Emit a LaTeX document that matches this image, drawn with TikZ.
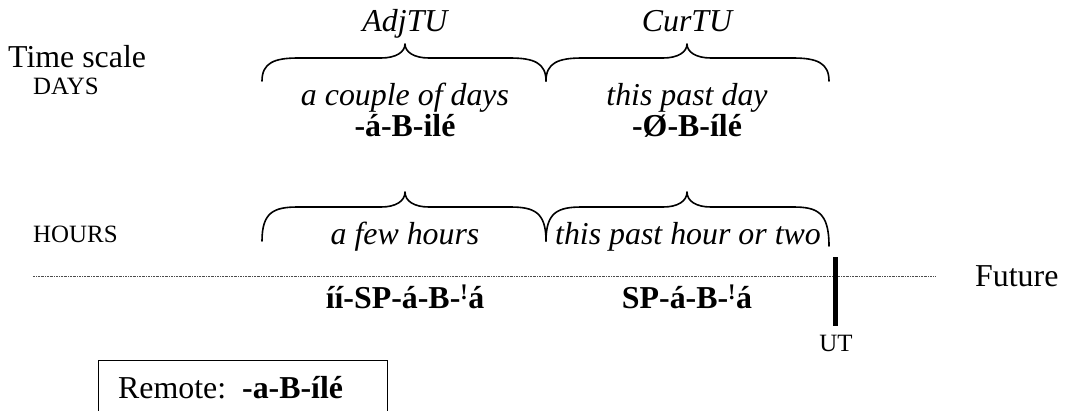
\documentclass[tikz,border=0pt]{standalone}
\usepackage{fontspec}
\setmainfont{Liberation Serif}
% curly brace: left x, tip x, right x, tip y, shoulder y, left end y, right end y
\newcommand\curlybrace[7]{%
  \draw[bracestroke] (#1,#6) .. controls (#1,{#5+5}) and ({#1+12},#5) .. ({#1+36},#5)
    -- ({#2-24},#5) .. controls ({#2-9},#5) and (#2,{#5-6}) .. (#2,#4)
    .. controls (#2,{#5-6}) and ({#2+9},#5) .. ({#2+24},#5)
    -- ({#3-36},#5) .. controls ({#3-12},#5) and (#3,{#5+5}) .. (#3,#7);}
\begin{document}
\begin{tikzpicture}[x=1bp,y=-1bp,
  big/.style={font=\fontsize{32}{37}\selectfont, inner sep=0pt, anchor=base},
  small/.style={font=\fontsize{25}{29}\selectfont, inner sep=0pt, anchor=base},
  label/.style={big, font=\fontsize{32}{37}\selectfont\itshape},
  form/.style={big, font=\fontsize{32}{37}\selectfont\bfseries},
  bracestroke/.style={line width=1.6bp, line cap=round, line join=round},
  timeline/.style={line width=0.6bp, black!70, dash pattern=on 2bp off 1bp on 0.6bp off 1bp},
  nowbar/.style={line width=5bp},
  boxline/.style={line width=0.9bp}]
\useasboundingbox (0,0) rectangle (1070,410);

% unit headings
\node[label] (adj) at (405,31) {AdjTU};
\node[label] (cur) at (687,31) {CurTU};

% days scale
\node[big, anchor=base west] (ts) at (8,67) {Time scale};
\node[small, anchor=base west] (days) at (33,94) {DAYS};
\curlybrace{262}{405}{546}{44}{58}{81}{81}
\curlybrace{546}{687}{829}{44}{58}{81}{81}
\node[label] (dcouple) at (405,105) {a couple of days};
\node[label] (dpast) at (687,105) {this past day};
\node[form] (fadj) at (405,136) {-á-B-ilé};
\node[form] (fcur) at (687,136) {-Ø-B-ílé};

% hours scale
\node[small, anchor=base west] (hours) at (33,242) {HOURS};
\curlybrace{262}{405}{546}{192}{207}{241}{241}
\curlybrace{546}{687}{829}{192}{207}{241}{246}
\node[label] (hfew) at (405,244) {a few hours};
\node[label] (hpast) at (688,244) {this past hour or two};

% time line with utterance time
\coordinate (tl0) at (33,276);
\coordinate (tl1) at (935,276);
\draw[timeline] (tl0) -- (tl1);
\coordinate (ut0) at (835,257);
\coordinate (ut1) at (835,326);
\draw[nowbar] (ut0) -- (ut1);
\node[small] (ut) at (836,351) {UT};
\node[big, anchor=base west] (future) at (975,286) {Future};

\node[form] (hadj) at (405,308) {íí-SP-á-B-\textsuperscript{!}á};
\node[form] (hcur) at (687,308) {SP-á-B-\textsuperscript{!}á};

% remote past box
\draw[boxline] (98,420) |- (387,360) -- (387,420);
\node[big, anchor=base west] (remote) at (118,398) {Remote:\ \ \textbf{-a-B-ílé}};
\end{tikzpicture}
\end{document}
